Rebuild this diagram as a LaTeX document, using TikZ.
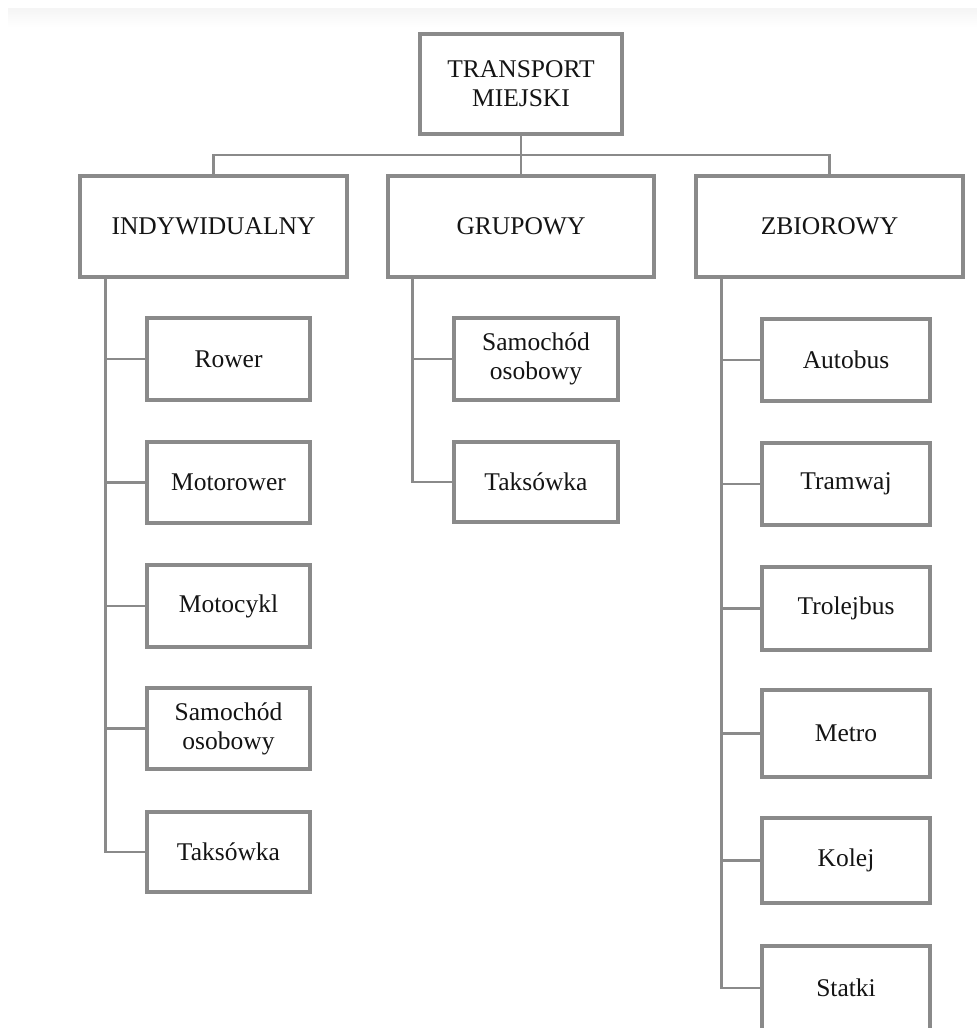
\documentclass[tikz,border=0pt]{standalone}
\usepackage{fontspec}
\setmainfont{Liberation Serif}
\definecolor{lineg}{RGB}{138,138,138}
\definecolor{txt}{RGB}{20,20,20}
\begin{document}
\begin{tikzpicture}[x=1pt,y=-1pt,
  box/.style={draw=lineg,line width=3.1pt,fill=white,align=center,inner sep=0pt,
    text=txt,font=\fontsize{25.5}{29}\selectfont},
  conn/.style={draw=lineg,line width=2.4pt,line join=miter,line cap=rect}]
\useasboundingbox (0,0) rectangle (977,1028);
\fill[white] (0,0) rectangle (977,1028);
\shade[top color=black!4,bottom color=white] (8,8) rectangle (977,27);
% connectors top (drawn first, boxes cover ends)
\coordinate (bus) at (521,155);
% top
\node[box,minimum width=202pt,minimum height=100pt] (top) at (521,84) {TRANSPORT\\MIEJSKI};
% level 2
\node[box,minimum width=267pt,minimum height=101pt] (ind) at (213.5,226.5) {INDYWIDUALNY};
\node[box,minimum width=266pt,minimum height=101pt] (grp) at (521,226.5) {GRUPOWY};
\node[box,minimum width=267pt,minimum height=101pt] (zb) at (829.5,226.5) {ZBIOROWY};
% left column
\node[box,minimum width=163pt,minimum height=82pt] (l1) at (228.5,359) {Rower};
\node[box,minimum width=163pt,minimum height=81pt] (l2) at (228.5,482.5) {Motorower};
\node[box,minimum width=163pt,minimum height=82pt] (l3) at (228.5,606) {Motocykl};
\node[box,minimum width=163pt,minimum height=81pt] (l4) at (228.5,728.5) {Samochód\\osobowy};
\node[box,minimum width=163pt,minimum height=80pt] (l5) at (228.5,852) {Taksówka};
% middle column
\node[box,minimum width=164pt,minimum height=82pt] (m1) at (536,359) {Samochód\\osobowy};
\node[box,minimum width=164pt,minimum height=80pt] (m2) at (536,482) {Taksówka};
% right column
\node[box,minimum width=168pt,minimum height=82pt] (r1) at (846,360) {Autobus};
\node[box,minimum width=168pt,minimum height=82pt] (r2) at (846,484) {Tramwaj};
\node[box,minimum width=168pt,minimum height=83pt] (r3) at (846,608.5) {Trolejbus};
\node[box,minimum width=168pt,minimum height=87pt] (r4) at (846,733.5) {Metro};
\node[box,minimum width=168pt,minimum height=85pt] (r5) at (846,860.5) {Kolej};
\node[box,minimum width=168pt,minimum height=84pt] (r6) at (846,988) {Statki};
% connectors
\draw[conn,line cap=butt] (top.south) -- (grp.north);
\draw[conn,line cap=butt] (ind.north) |- (bus) -| (zb.north);
\coordinate (iv) at ([xshift=27pt]ind.south west);
\coordinate (gv) at ([xshift=26pt]grp.south west);
\coordinate (zv) at ([xshift=27pt]zb.south west);
\draw[conn,line cap=butt] (iv) |- (l5.west);
\foreach \n in {l1,l2,l3,l4} \draw[conn,line cap=butt] (iv |- \n.west) -- (\n.west);
\draw[conn,line cap=butt] (gv) |- (m2.west);
\draw[conn,line cap=butt] (gv |- m1.west) -- (m1.west);
\draw[conn,line cap=butt] (zv) |- (r6.west);
\foreach \n in {r1,r2,r3,r4,r5} \draw[conn,line cap=butt] (zv |- \n.west) -- (\n.west);
\end{tikzpicture}
\end{document}
